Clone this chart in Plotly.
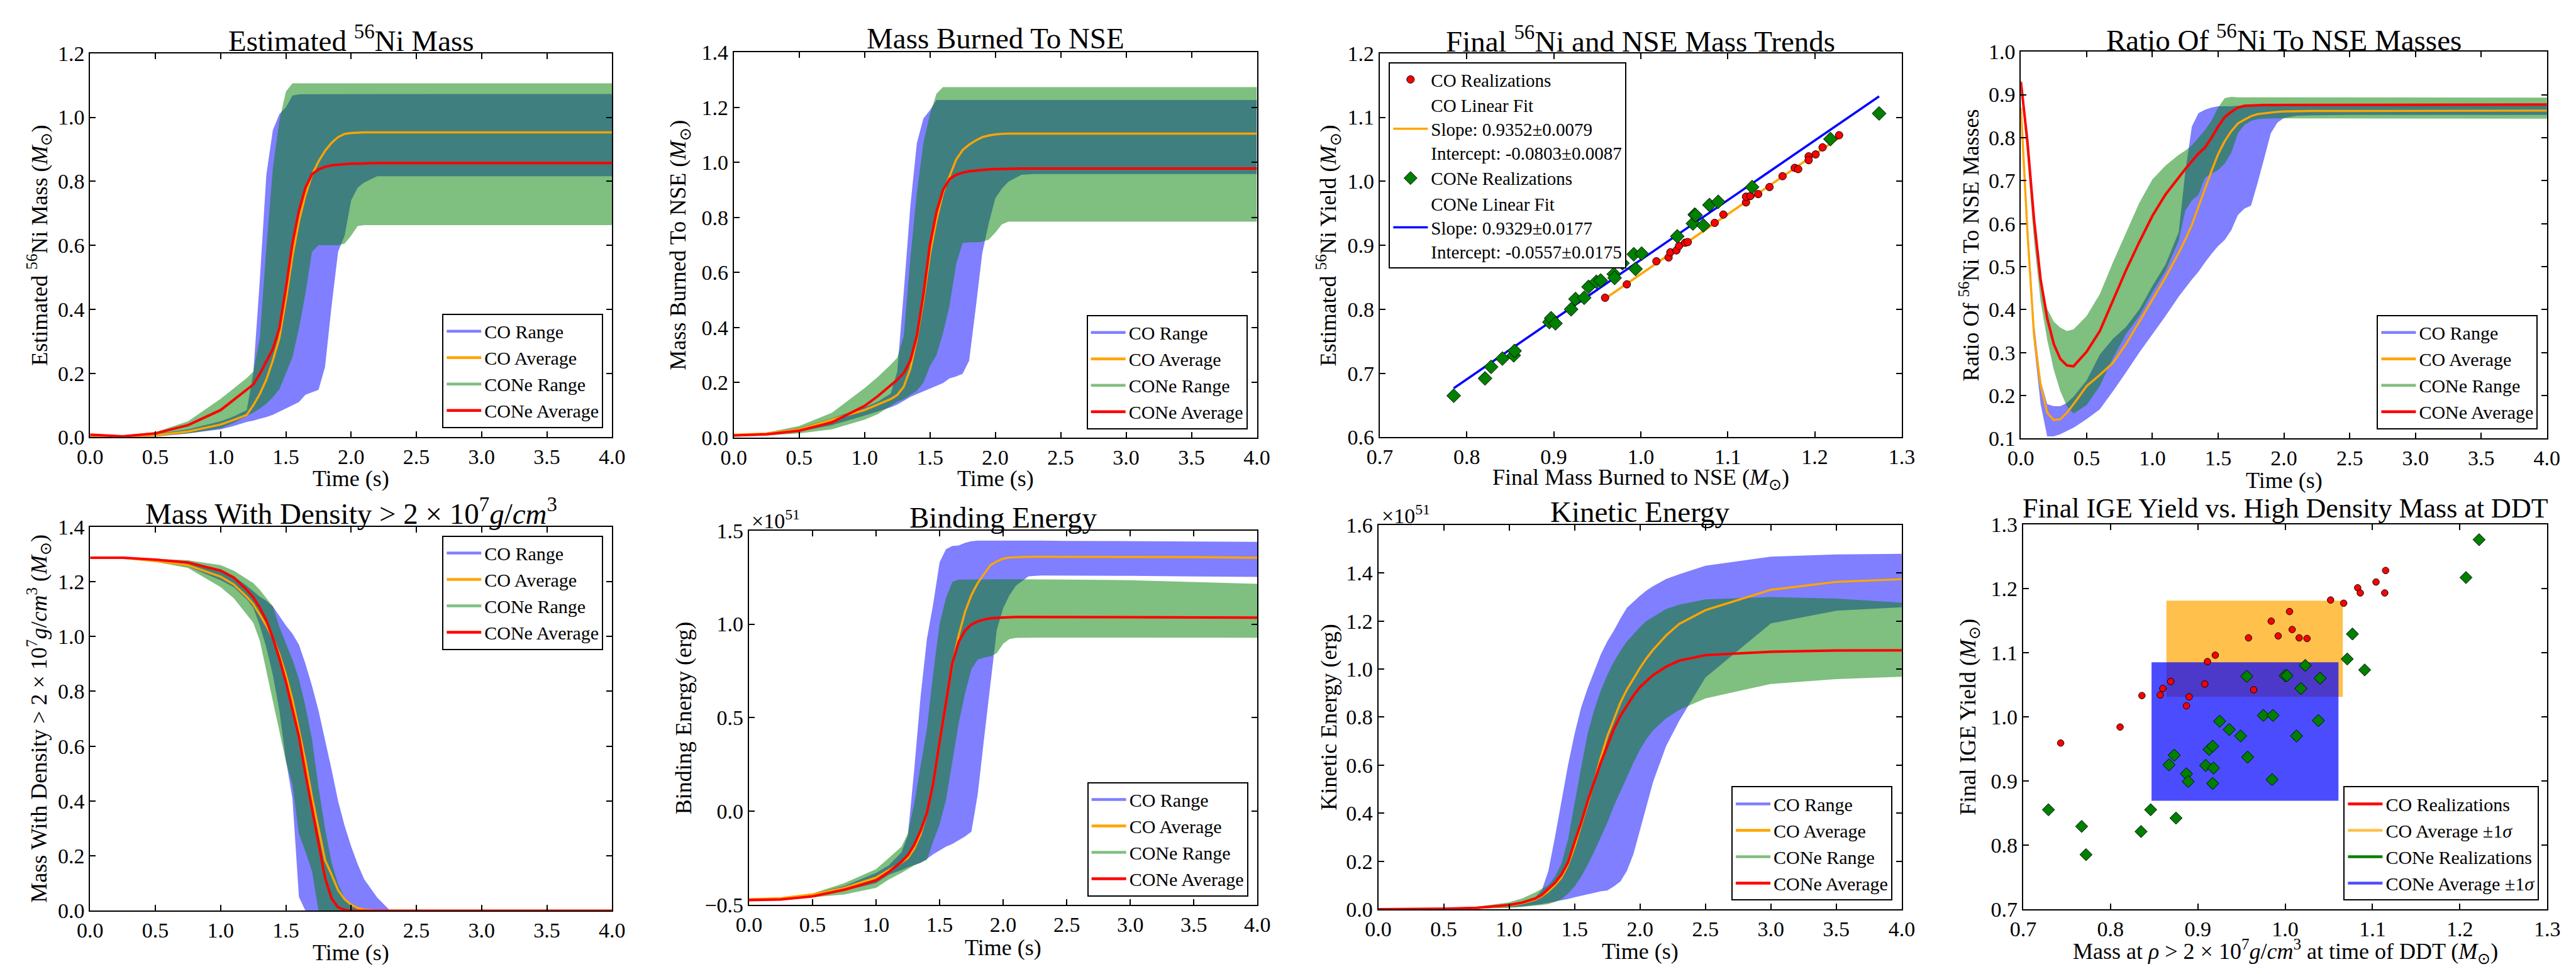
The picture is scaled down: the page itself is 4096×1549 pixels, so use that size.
import plotly.graph_objects as go

FONT = "Liberation Serif"
W, H = 4096, 1549

# ---------------- time grids ----------------
T = [0.0, 0.25, 0.5, 0.75, 1.0, 1.1, 1.2, 1.25, 1.3, 1.35, 1.4, 1.45, 1.5, 1.55, 1.6, 1.65,
     1.7, 1.75, 1.8, 1.85, 1.9, 1.95, 2.0, 2.05, 2.1, 2.2, 2.3, 2.5, 3.0, 3.5, 4.0]
T4 = [0.0, 0.05, 0.1, 0.15, 0.2, 0.25, 0.3, 0.35, 0.4, 0.5, 0.6, 0.7, 0.8, 0.9, 1.0, 1.1, 1.2,
      1.25, 1.3, 1.35, 1.4, 1.45, 1.5, 1.55, 1.6, 1.65, 1.7, 1.75, 1.8, 1.85, 1.9, 1.95, 2.0,
      2.1, 2.2, 2.5, 4.0]

# ---------------- panel 1: estimated 56Ni mass ----------------
ni_co_lo = [0.0, 0.0, 0.002, 0.012, 0.025, 0.035, 0.048, 0.052, 0.058, 0.063, 0.07, 0.08, 0.09, 0.10,
            0.11, 0.133, 0.14, 0.148, 0.22, 0.41, 0.58, 0.63, 0.74, 0.78, 0.796, 0.816, 0.816, 0.816,
            0.816, 0.816, 0.816]
ni_co_hi = [0.006, 0.004, 0.01, 0.025, 0.05, 0.065, 0.085, 0.2, 0.49, 0.82, 0.96, 1.01, 1.031, 1.068,
            1.072, 1.073, 1.073, 1.073, 1.073, 1.073, 1.073, 1.073, 1.073, 1.073, 1.073, 1.073, 1.073,
            1.073, 1.073, 1.073, 1.073]
ni_cone_lo = [0.0, 0.0, 0.003, 0.012, 0.028, 0.045, 0.066, 0.077, 0.09, 0.105, 0.125, 0.15, 0.2, 0.25,
              0.34, 0.45, 0.58, 0.60, 0.60, 0.60, 0.60, 0.605, 0.63, 0.66, 0.663, 0.663, 0.663, 0.663,
              0.663, 0.663, 0.663]
ni_cone_hi = [0.01, 0.006, 0.016, 0.05, 0.12, 0.152, 0.185, 0.205, 0.31, 0.59, 0.84, 0.99, 1.08, 1.106,
              1.106, 1.106, 1.106, 1.106, 1.106, 1.106, 1.106, 1.106, 1.106, 1.106, 1.106, 1.106, 1.106,
              1.106, 1.106, 1.106, 1.106]
ni_co_avg = [0.005, 0.002, 0.006, 0.018, 0.04, 0.054, 0.07, 0.10, 0.135, 0.18, 0.24, 0.31, 0.43, 0.565,
             0.675, 0.757, 0.82, 0.862, 0.895, 0.92, 0.938, 0.948, 0.951, 0.952, 0.953, 0.953, 0.953,
             0.953, 0.953, 0.953, 0.953]
ni_cone_avg = [0.008, 0.003, 0.012, 0.038, 0.085, 0.117, 0.147, 0.165, 0.198, 0.235, 0.276, 0.34, 0.465,
               0.605, 0.708, 0.78, 0.822, 0.837, 0.845, 0.85, 0.852, 0.854, 0.855, 0.855, 0.856, 0.857,
               0.857, 0.857, 0.857, 0.857, 0.857]

# ---------------- panel 2: mass burned to NSE ----------------
nse_co_lo = [0.005, 0.01, 0.022, 0.045, 0.08, 0.095, 0.11, 0.12, 0.135, 0.148, 0.158, 0.168, 0.178, 0.188,
             0.198, 0.215, 0.222, 0.232, 0.28, 0.47, 0.67, 0.78, 0.87, 0.905, 0.93, 0.955, 0.958, 0.958,
             0.958, 0.958, 0.958]
nse_co_hi = [0.008, 0.018, 0.035, 0.07, 0.11, 0.13, 0.16, 0.24, 0.53, 0.84, 1.07, 1.16, 1.19, 1.227,
             1.227, 1.227, 1.227, 1.227, 1.227, 1.227, 1.227, 1.227, 1.227, 1.227, 1.227, 1.227, 1.227,
             1.227, 1.227, 1.227, 1.227]
nse_cone_lo = [0.003, 0.008, 0.015, 0.03, 0.065, 0.085, 0.115, 0.13, 0.14, 0.155, 0.17, 0.2, 0.26, 0.30,
               0.38, 0.48, 0.63, 0.708, 0.71, 0.71, 0.712, 0.72, 0.745, 0.775, 0.785, 0.785, 0.785, 0.785,
               0.785, 0.785, 0.785]
nse_cone_hi = [0.01, 0.018, 0.042, 0.09, 0.18, 0.22, 0.265, 0.29, 0.37, 0.65, 0.89, 1.07, 1.175, 1.25,
               1.274, 1.274, 1.274, 1.274, 1.274, 1.274, 1.274, 1.274, 1.274, 1.274, 1.274, 1.274, 1.274,
               1.274, 1.274, 1.274, 1.274]
nse_co_avg = [0.01, 0.015, 0.03, 0.065, 0.10, 0.12, 0.14, 0.155, 0.185, 0.25, 0.36, 0.50, 0.666, 0.79,
              0.89, 0.95, 1.01, 1.045, 1.065, 1.08, 1.092, 1.098, 1.102, 1.104, 1.105, 1.105, 1.105,
              1.105, 1.105, 1.105, 1.105]
nse_cone_avg = [0.008, 0.012, 0.025, 0.055, 0.115, 0.15, 0.19, 0.21, 0.235, 0.28, 0.37, 0.52, 0.70, 0.82,
                0.90, 0.94, 0.955, 0.963, 0.968, 0.971, 0.973, 0.975, 0.976, 0.977, 0.978, 0.978, 0.978,
                0.978, 0.978, 0.978, 0.978]

# ---------------- panel 4: ratio of 56Ni to NSE masses ----------------
ratio_co_lo = [0.86, 0.55, 0.32, 0.18, 0.105, 0.105, 0.11, 0.117, 0.125, 0.145, 0.168, 0.21, 0.254, 0.3,
               0.342, 0.385, 0.43, 0.45, 0.47, 0.488, 0.51, 0.53, 0.548, 0.562, 0.585, 0.62, 0.635,
               0.642, 0.695, 0.752, 0.81, 0.835, 0.846, 0.851, 0.852, 0.853, 0.853]
ratio_co_hi = [0.88, 0.61, 0.37, 0.235, 0.18, 0.175, 0.175, 0.183, 0.197, 0.235, 0.295, 0.332, 0.36, 0.40,
               0.455, 0.505, 0.58, 0.72, 0.826, 0.857, 0.865, 0.87, 0.873, 0.873, 0.873, 0.874, 0.874,
               0.875, 0.875, 0.875, 0.875, 0.875, 0.875, 0.875, 0.875, 0.875, 0.875]
ratio_cone_lo = [0.925, 0.75, 0.56, 0.42, 0.33, 0.26, 0.21, 0.175, 0.158, 0.178, 0.222, 0.287, 0.343,
                 0.385, 0.44, 0.49, 0.56, 0.63, 0.654, 0.667, 0.707, 0.716, 0.725, 0.74, 0.765, 0.81,
                 0.83, 0.839, 0.843, 0.844, 0.845, 0.845, 0.845, 0.845, 0.845, 0.844, 0.844]
ratio_cone_hi = [0.935, 0.81, 0.63, 0.48, 0.402, 0.372, 0.358, 0.35, 0.354, 0.385, 0.436, 0.51, 0.58,
                 0.648, 0.703, 0.735, 0.76, 0.77, 0.782, 0.8, 0.818, 0.84, 0.87, 0.892, 0.895, 0.894,
                 0.893, 0.893, 0.893, 0.893, 0.893, 0.893, 0.893, 0.893, 0.893, 0.893, 0.893]
ratio_co_avg = [0.87, 0.58, 0.34, 0.225, 0.16, 0.143, 0.145, 0.16, 0.18, 0.222, 0.248, 0.276, 0.32, 0.372,
                0.423, 0.475, 0.532, 0.563, 0.597, 0.64, 0.683, 0.723, 0.762, 0.792, 0.815, 0.833, 0.842,
                0.85, 0.855, 0.857, 0.858, 0.86, 0.861, 0.862, 0.862, 0.862, 0.863]
ratio_cone_avg = [0.93, 0.79, 0.61, 0.47, 0.38, 0.32, 0.285, 0.27, 0.268, 0.302, 0.35, 0.42, 0.492, 0.557,
                  0.618, 0.668, 0.708, 0.727, 0.745, 0.763, 0.777, 0.8, 0.826, 0.848, 0.86, 0.87, 0.874,
                  0.875, 0.876, 0.876, 0.876, 0.876, 0.876, 0.876, 0.877, 0.877, 0.877]

# ---------------- panel 5: mass with density > 2e7 g/cm^3 ----------------
dens_co_lo = [1.287, 1.286, 1.272, 1.255, 1.205, 1.18, 1.135, 1.105, 1.04, 0.96, 0.86, 0.73, 0.55, 0.41,
              0.05, 0.0, 0.0, 0.0, 0.0, 0.0, 0.0, 0.0, 0.0, 0.0, 0.0, 0.0, 0.0, 0.0, 0.0, 0.0, 0.0]
dens_co_hi = [1.287, 1.287, 1.28, 1.272, 1.245, 1.22, 1.185, 1.165, 1.145, 1.13, 1.11, 1.075, 1.04, 1.01,
              0.97, 0.9, 0.82, 0.73, 0.62, 0.515, 0.40, 0.31, 0.235, 0.17, 0.115, 0.048, 0.0, 0.0, 0.0,
              0.0, 0.0]
dens_cone_lo = [1.287, 1.285, 1.272, 1.25, 1.18, 1.14, 1.08, 1.05, 0.985, 0.875, 0.77, 0.66, 0.545, 0.46,
                0.28, 0.215, 0.145, 0.0, 0.0, 0.0, 0.0, 0.0, 0.0, 0.0, 0.0, 0.0, 0.0, 0.0, 0.0, 0.0, 0.0]
dens_cone_hi = [1.287, 1.287, 1.283, 1.278, 1.26, 1.24, 1.21, 1.195, 1.17, 1.14, 1.11, 1.035, 0.975,
                0.915, 0.845, 0.745, 0.625, 0.45, 0.30, 0.175, 0.098, 0.048, 0.022, 0.008, 0.002, 0.0,
                0.0, 0.0, 0.0, 0.0, 0.0]
dens_co_avg = [1.287, 1.287, 1.275, 1.26, 1.218, 1.19, 1.145, 1.118, 1.08, 1.04, 0.995, 0.935, 0.86, 0.77,
               0.66, 0.545, 0.415, 0.295, 0.185, 0.132, 0.075, 0.042, 0.022, 0.01, 0.004, 0.0, 0.0, 0.0,
               0.0, 0.0, 0.0]
dens_cone_avg = [1.287, 1.287, 1.28, 1.27, 1.24, 1.215, 1.17, 1.143, 1.105, 1.058, 0.995, 0.92, 0.835,
                 0.73, 0.635, 0.50, 0.37, 0.24, 0.12, 0.045, 0.012, 0.003, 0.0, 0.0, 0.0, 0.0, 0.0, 0.0,
                 0.0, 0.0, 0.0]

# ---------------- panel 6: binding energy (1e51 erg) ----------------
bind_co_lo = [-0.475, -0.472, -0.455, -0.425, -0.385, -0.34, -0.315, -0.30, -0.288, -0.276, -0.255,
              -0.23, -0.21, -0.19, -0.175, -0.155, -0.135, -0.11, 0.09, 0.39, 0.69, 0.97, 1.085, 1.155,
              1.205, 1.256, 1.26, 1.26, 1.258, 1.255, 1.252]
bind_co_hi = [-0.468, -0.462, -0.44, -0.40, -0.33, -0.29, -0.22, -0.13, 0.22, 0.61, 0.92, 1.11, 1.33,
              1.40, 1.418, 1.42, 1.435, 1.443, 1.446, 1.446, 1.446, 1.446, 1.446, 1.446, 1.446, 1.446,
              1.446, 1.445, 1.443, 1.441, 1.44]
bind_cone_lo = [-0.478, -0.475, -0.46, -0.445, -0.41, -0.365, -0.33, -0.31, -0.29, -0.275, -0.26, -0.16,
                -0.07, 0.06, 0.27, 0.47, 0.63, 0.76, 0.81, 0.821, 0.828, 0.845, 0.895, 0.92, 0.926, 0.928,
                0.928, 0.928, 0.928, 0.928, 0.927]
bind_cone_hi = [-0.468, -0.464, -0.44, -0.385, -0.31, -0.25, -0.19, -0.12, 0.04, 0.24, 0.44, 0.74, 1.0,
                1.14, 1.225, 1.238, 1.24, 1.24, 1.24, 1.24, 1.24, 1.24, 1.24, 1.24, 1.24, 1.24, 1.24,
                1.238, 1.235, 1.225, 1.215]
bind_co_avg = [-0.47, -0.465, -0.445, -0.41, -0.355, -0.315, -0.275, -0.25, -0.2, -0.125, -0.01, 0.15,
               0.37, 0.58, 0.78, 0.94, 1.065, 1.155, 1.22, 1.27, 1.315, 1.335, 1.35, 1.356, 1.358, 1.36,
               1.36, 1.36, 1.36, 1.358, 1.355]
bind_cone_avg = [-0.475, -0.472, -0.455, -0.42, -0.37, -0.325, -0.27, -0.235, -0.18, -0.105, -0.01, 0.15,
                 0.37, 0.59, 0.79, 0.905, 0.965, 0.998, 1.015, 1.024, 1.031, 1.034, 1.036, 1.037, 1.038,
                 1.038, 1.038, 1.038, 1.038, 1.037, 1.035]

# ---------------- panel 7: kinetic energy (1e51 erg) ----------------
kin_co_lo = [0.0, 0.0, 0.001, 0.003, 0.008, 0.012, 0.018, 0.022, 0.027, 0.032, 0.037, 0.043, 0.05, 0.055,
             0.062, 0.068, 0.075, 0.078, 0.095, 0.115, 0.16, 0.23, 0.33, 0.43, 0.53, 0.68, 0.785, 0.965,
             1.19, 1.243, 1.257]
kin_co_hi = [0.0005, 0.001, 0.003, 0.008, 0.02, 0.03, 0.05, 0.08, 0.16, 0.3, 0.445, 0.6, 0.73, 0.84, 0.92,
             0.99, 1.06, 1.115, 1.16, 1.21, 1.255, 1.28, 1.305, 1.327, 1.345, 1.375, 1.395, 1.43, 1.468,
             1.477, 1.48]
kin_cone_lo = [0.0, 0.0, 0.0, 0.002, 0.006, 0.01, 0.015, 0.018, 0.022, 0.03, 0.043, 0.065, 0.095, 0.135,
               0.185, 0.24, 0.3, 0.36, 0.43, 0.49, 0.55, 0.61, 0.665, 0.709, 0.745, 0.795, 0.83, 0.878,
               0.938, 0.958, 0.968]
kin_cone_hi = [0.001, 0.002, 0.004, 0.01, 0.029, 0.045, 0.07, 0.085, 0.1, 0.135, 0.19, 0.29, 0.44, 0.59,
               0.73, 0.83, 0.91, 0.975, 1.03, 1.075, 1.115, 1.145, 1.175, 1.2, 1.218, 1.25, 1.268, 1.29,
               1.3, 1.293, 1.276]
kin_co_avg = [0.0, 0.0, 0.002, 0.005, 0.015, 0.025, 0.04, 0.055, 0.075, 0.1, 0.132, 0.185, 0.26, 0.35,
              0.44, 0.53, 0.63, 0.72, 0.79, 0.86, 0.915, 0.96, 1.005, 1.045, 1.08, 1.14, 1.188, 1.245,
              1.33, 1.363, 1.374]
kin_cone_avg = [0.0, 0.0, 0.002, 0.006, 0.018, 0.028, 0.045, 0.06, 0.085, 0.11, 0.145, 0.195, 0.28, 0.36,
                0.45, 0.53, 0.61, 0.68, 0.75, 0.805, 0.85, 0.89, 0.925, 0.95, 0.975, 1.01, 1.035, 1.058,
                1.072, 1.077, 1.078]

# ---------------- panel 3: final 56Ni vs NSE mass ----------------
co_nse = [0.959, 0.984, 1.018, 1.032, 1.034, 1.041, 1.044, 1.051, 1.054, 1.085, 1.095, 1.121, 1.121,
          1.126, 1.135, 1.148, 1.163, 1.177, 1.181, 1.193, 1.193, 1.201, 1.209, 1.228]
co_ni = [0.818, 0.839, 0.875, 0.881, 0.889, 0.892, 0.899, 0.904, 0.905, 0.935, 0.948, 0.967, 0.976,
         0.977, 0.980, 0.991, 1.008, 1.021, 1.019, 1.039, 1.033, 1.042, 1.053, 1.072]
cone_nse = [0.785, 0.821, 0.828, 0.841, 0.854, 0.855, 0.895, 0.897, 0.902, 0.920, 0.925, 0.935, 0.940,
            0.949, 0.954, 0.969, 0.970, 0.979, 0.992, 0.994, 1.001, 1.042, 1.060, 1.062, 1.063, 1.072,
            1.079, 1.089, 1.128, 1.218, 1.274]
cone_ni = [0.665, 0.692, 0.710, 0.723, 0.728, 0.735, 0.780, 0.786, 0.778, 0.800, 0.816, 0.818, 0.835,
           0.843, 0.845, 0.855, 0.849, 0.872, 0.886, 0.863, 0.887, 0.914, 0.934, 0.948, 0.947, 0.931,
           0.963, 0.968, 0.991, 1.066, 1.106]
co_fit = {"slope": 0.9352, "slope_err": 0.0079, "intercept": -0.0803, "intercept_err": 0.0087}
cone_fit = {"slope": 0.9329, "slope_err": 0.0177, "intercept": -0.0557, "intercept_err": 0.0175}

# ---------------- panel 8: final IGE yield vs high density mass at DDT ----------------
co_ddt = [0.743, 0.811, 0.836, 0.857, 0.860, 0.869, 0.887, 0.890, 0.908, 0.911, 0.920, 0.958, 0.964,
          0.984, 0.992, 1.005, 1.008, 1.016, 1.025, 1.052, 1.067, 1.083, 1.086, 1.104, 1.114, 1.115]
co_ige = [0.959, 0.984, 1.033, 1.034, 1.044, 1.055, 1.017, 1.031, 1.051, 1.086, 1.096, 1.123, 1.042,
          1.149, 1.126, 1.164, 1.136, 1.123, 1.122, 1.182, 1.177, 1.201, 1.193, 1.210, 1.193, 1.228]
cone_ddt = [0.729, 0.767, 0.772, 0.835, 0.846, 0.867, 0.873, 0.875, 0.887, 0.889, 0.909, 0.913, 0.917,
            0.917, 0.918, 0.925, 0.936, 0.949, 0.957, 0.956, 0.975, 0.985, 0.986, 1.000, 1.002, 1.013,
            1.018, 1.023, 1.038, 1.040, 1.071, 1.077, 1.091, 1.207, 1.222]
cone_ige = [0.855, 0.829, 0.785, 0.821, 0.855, 0.925, 0.940, 0.842, 0.911, 0.899, 0.924, 0.949, 0.954,
            0.896, 0.920, 0.993, 0.980, 0.970, 0.937, 1.063, 1.002, 0.902, 1.002, 1.064, 1.064, 0.970,
            1.044, 1.080, 0.994, 1.060, 1.090, 1.129, 1.073, 1.217, 1.276]
co_box_x = [0.864, 1.066]     # CO average +/- 1 sigma (DDT mass)
co_box_y = [1.031, 1.181]     # CO average +/- 1 sigma (IGE yield)
cone_box_x = [0.847, 1.061]
cone_box_y = [0.869, 1.085]

# ---------------- tick values ----------------
TIME_TICKS = [0.0, 0.5, 1.0, 1.5, 2.0, 2.5, 3.0, 3.5, 4.0]
NI_TICKS = [0.0, 0.2, 0.4, 0.6, 0.8, 1.0, 1.2]
NSE_TICKS = [0.0, 0.2, 0.4, 0.6, 0.8, 1.0, 1.2, 1.4]
P3_X_TICKS = [0.7, 0.8, 0.9, 1.0, 1.1, 1.2, 1.3]
P3_Y_TICKS = [0.6, 0.7, 0.8, 0.9, 1.0, 1.1, 1.2]
RATIO_TICKS = [0.1, 0.2, 0.3, 0.4, 0.5, 0.6, 0.7, 0.8, 0.9, 1.0]
BIND_TICKS = [-0.5, 0.0, 0.5, 1.0, 1.5]
KIN_TICKS = [0.0, 0.2, 0.4, 0.6, 0.8, 1.0, 1.2, 1.4, 1.6]
P8_X_TICKS = [0.7, 0.8, 0.9, 1.0, 1.1, 1.2, 1.3]
P8_Y_TICKS = [0.7, 0.8, 0.9, 1.0, 1.1, 1.2, 1.3]

# ---------------- styling ----------------
BLUE_FILL = "rgba(0,0,255,0.5)"
GREEN_FILL = "rgba(0,128,0,0.5)"
ORANGE = "#FFA500"
RED = "#FF0000"
GREEN = "#008000"
BLUE = "#0000FF"
ORANGE_BOX = "rgba(255,165,0,0.7)"
BLUE_BOX = "rgba(0,0,255,0.7)"

TICK_SIZE = 34
TITLE_SIZE = 47
LABEL_SIZE = 36
LEGEND_SIZE = 30

# panel boxes in window pixels: left, right, top, bottom
BOX = {
    1: (123.6, 962.2, 68.4, 694.0),
    2: (1157.6, 1998.0, 67.0, 694.5),
    3: (2195.4, 3034.0, 68.4, 694.0),
    4: (3225.4, 4070.6, 65.8, 696.0),
    5: (123.6, 962.2, 839.8, 1465.4),
    6: (1182.0, 1998.8, 846.0, 1455.6),
    7: (2193.0, 3034.0, 836.8, 1463.0),
    8: (3229.0, 4071.0, 835.8, 1462.8),
}

fig = go.Figure()


def axn(i):
    return ("x" if i == 1 else f"x{i}", "y" if i == 1 else f"y{i}")


def lgn(i):
    return "legend" if i == 1 else f"legend{i}"


def band(i, t, lo, hi, color):
    xa, ya = axn(i)
    fig.add_trace(go.Scatter(x=list(t) + list(t)[::-1], y=list(lo) + list(hi)[::-1],
                             fill="toself", fillcolor=color, line=dict(width=0), mode="lines",
                             showlegend=False, hoverinfo="skip", xaxis=xa, yaxis=ya))


def curve(i, t, y, color, width):
    xa, ya = axn(i)
    fig.add_trace(go.Scatter(x=t, y=y, mode="lines", line=dict(color=color, width=width),
                             showlegend=False, hoverinfo="skip", xaxis=xa, yaxis=ya))


def legend_line(i, name, color, width=4.5):
    xa, ya = axn(i)
    fig.add_trace(go.Scatter(x=[None], y=[None], mode="lines", line=dict(color=color, width=width),
                             name=name, legend=lgn(i), showlegend=True, xaxis=xa, yaxis=ya))


# ---------------- time-series panels ----------------
time_panels = [
    (1, T, ni_co_lo, ni_co_hi, ni_co_avg, ni_cone_lo, ni_cone_hi, ni_cone_avg),
    (2, T, nse_co_lo, nse_co_hi, nse_co_avg, nse_cone_lo, nse_cone_hi, nse_cone_avg),
    (4, T4, ratio_co_lo, ratio_co_hi, ratio_co_avg, ratio_cone_lo, ratio_cone_hi, ratio_cone_avg),
    (5, T, dens_co_lo, dens_co_hi, dens_co_avg, dens_cone_lo, dens_cone_hi, dens_cone_avg),
    (6, T, bind_co_lo, bind_co_hi, bind_co_avg, bind_cone_lo, bind_cone_hi, bind_cone_avg),
    (7, T, kin_co_lo, kin_co_hi, kin_co_avg, kin_cone_lo, kin_cone_hi, kin_cone_avg),
]
for (i, t, clo, chi, cav, nlo, nhi, nav) in time_panels:
    band(i, t, clo, chi, BLUE_FILL)
    band(i, t, nlo, nhi, GREEN_FILL)
    curve(i, t, cav, ORANGE, 3.4)
    curve(i, t, nav, RED, 4.0)
    legend_line(i, "CO Range", BLUE_FILL)
    legend_line(i, "CO Average", ORANGE)
    legend_line(i, "CONe Range", GREEN_FILL)
    legend_line(i, "CONe Average", RED)

# ---------------- panel 3 ----------------
co_fx = [min(co_nse), max(co_nse)]
cone_fx = [min(cone_nse), max(cone_nse)]
co_fy = [co_fit["slope"] * v + co_fit["intercept"] for v in co_fx]
cone_fy = [cone_fit["slope"] * v + cone_fit["intercept"] for v in cone_fx]
xa3, ya3 = axn(3)
fig.add_trace(go.Scatter(x=co_fx, y=co_fy, mode="lines", line=dict(color=ORANGE, width=3.6),
                         name=(f"CO Linear Fit<br>Slope: {co_fit['slope']:.4f}±{co_fit['slope_err']:.4f}"
                               f"<br>Intercept: {co_fit['intercept']:.4f}±{co_fit['intercept_err']:.4f}"),
                         legend=lgn(3), legendrank=2, xaxis=xa3, yaxis=ya3))
fig.add_trace(go.Scatter(x=cone_fx, y=cone_fy, mode="lines", line=dict(color=BLUE, width=3.6),
                         name=(f"CONe Linear Fit<br>Slope: {cone_fit['slope']:.4f}±{cone_fit['slope_err']:.4f}"
                               f"<br>Intercept: {cone_fit['intercept']:.4f}±{cone_fit['intercept_err']:.4f}"),
                         legend=lgn(3), legendrank=4, xaxis=xa3, yaxis=ya3))
fig.add_trace(go.Scatter(x=co_nse, y=co_ni, mode="markers", name="CO Realizations",
                         marker=dict(symbol="circle", size=12, color=RED, line=dict(color="black", width=1)),
                         legend=lgn(3), legendrank=1, xaxis=xa3, yaxis=ya3))
fig.add_trace(go.Scatter(x=cone_nse, y=cone_ni, mode="markers", name="CONe Realizations",
                         marker=dict(symbol="diamond", size=17, color=GREEN, line=dict(color="black", width=1)),
                         legend=lgn(3), legendrank=3, xaxis=xa3, yaxis=ya3))

# ---------------- panel 8 ----------------
xa8, ya8 = axn(8)
for bx, by, col in ((co_box_x, co_box_y, ORANGE_BOX), (cone_box_x, cone_box_y, BLUE_BOX)):
    fig.add_trace(go.Scatter(x=[bx[0], bx[1], bx[1], bx[0], bx[0]], y=[by[0], by[0], by[1], by[1], by[0]],
                             fill="toself", fillcolor=col, line=dict(width=0), mode="lines",
                             showlegend=False, hoverinfo="skip", xaxis=xa8, yaxis=ya8))
fig.add_trace(go.Scatter(x=co_ddt, y=co_ige, mode="markers", showlegend=False,
                         marker=dict(symbol="circle", size=10.5, color=RED, line=dict(color="black", width=1)),
                         xaxis=xa8, yaxis=ya8))
fig.add_trace(go.Scatter(x=cone_ddt, y=cone_ige, mode="markers", showlegend=False,
                         marker=dict(symbol="diamond", size=15, color=GREEN, line=dict(color="black", width=1)),
                         xaxis=xa8, yaxis=ya8))
legend_line(8, "CO Realizations", RED)
legend_line(8, "CO Average ±1<i>σ</i>", ORANGE_BOX)
legend_line(8, "CONe Realizations", GREEN)
legend_line(8, "CONe Average ±1<i>σ</i>", BLUE_BOX)

# ---------------- axes ----------------
def fmt(v):
    s = f"{v:.1f}"
    return s.replace("-", "\u2212")


axis_common = dict(showline=True, linecolor="black", linewidth=2, mirror="ticks", ticks="inside",
                   ticklen=9, tickwidth=1.5, tickcolor="black", showgrid=False, zeroline=False,
                   tickfont=dict(family=FONT, size=TICK_SIZE, color="black"), tickmode="array",
                   fixedrange=True)

axis_spec = {
    1: (TIME_TICKS, NI_TICKS),
    2: (TIME_TICKS, NSE_TICKS),
    3: (P3_X_TICKS, P3_Y_TICKS),
    4: (TIME_TICKS, RATIO_TICKS),
    5: (TIME_TICKS, NSE_TICKS),
    6: (TIME_TICKS, BIND_TICKS),
    7: (TIME_TICKS, KIN_TICKS),
    8: (P8_X_TICKS, P8_Y_TICKS),
}

layout = dict(width=W, height=H, margin=dict(l=0, r=0, t=0, b=0), paper_bgcolor="white",
              plot_bgcolor="white", font=dict(family=FONT, color="black"), showlegend=True)

for i, (xt, yt) in axis_spec.items():
    l, r, tp, bt = BOX[i]
    xk = "xaxis" if i == 1 else f"xaxis{i}"
    yk = "yaxis" if i == 1 else f"yaxis{i}"
    xa, ya = axn(i)
    layout[xk] = dict(domain=[l / W, r / W], anchor=ya, range=[xt[0], xt[-1]],
                      tickvals=xt, ticktext=[fmt(v) for v in xt], **axis_common)
    layout[yk] = dict(domain=[1 - bt / H, 1 - tp / H], anchor=xa, range=[yt[0], yt[-1]],
                      tickvals=yt, ticktext=[fmt(v) for v in yt], **axis_common)

# ---------------- legends ----------------
def legend_box(x, y, xanchor, yanchor, size=LEGEND_SIZE):
    return dict(x=x / W, y=1 - y / H, xanchor=xanchor, yanchor=yanchor, xref="paper", yref="paper",
                bgcolor="white", bordercolor="black", borderwidth=2, itemwidth=55,
                font=dict(family=FONT, size=size, color="black"), tracegroupgap=0,
                traceorder="normal", itemclick=False, itemdoubleclick=False)


layout["legend"] = legend_box(948, 679, "right", "bottom")
layout["legend2"] = legend_box(1983, 681, "right", "bottom")
layout["legend3"] = legend_box(2210, 83, "left", "top", size=29)
layout["legend4"] = legend_box(4056, 681, "right", "bottom")
layout["legend5"] = legend_box(948, 854, "right", "top")
layout["legend6"] = legend_box(1984, 1442, "right", "bottom")
layout["legend7"] = legend_box(3019, 1449, "right", "bottom")
layout["legend8"] = legend_box(4058, 1449, "right", "bottom")

fig.update_layout(**layout)

# ---------------- text: titles, axis labels ----------------
MSUN = "(<i>M</i><sub>⊙</sub>)"
titles = {
    1: ("Estimated <sup>56</sup>Ni Mass", 44.5, TITLE_SIZE),
    2: ("Mass Burned To NSE", 44.5, TITLE_SIZE),
    3: ("Final <sup>56</sup>Ni and NSE Mass Trends", 46, TITLE_SIZE),
    4: ("Ratio Of <sup>56</sup>Ni To NSE Masses", 43.5, TITLE_SIZE),
    5: ("Mass With Density > 2 × 10<sup>7</sup><i>g</i>/<i>cm</i><sup>3</sup>", 815, TITLE_SIZE),
    6: ("Binding Energy", 825, TITLE_SIZE),
    7: ("Kinetic Energy", 815, TITLE_SIZE),
    8: ("Final IGE Yield vs. High Density Mass at DDT", 810, 44),
}
ylabels = {
    1: ("Estimated <sup>56</sup>Ni Mass " + MSUN, 42),
    2: ("Mass Burned To NSE " + MSUN, 1071),
    3: ("Estimated <sup>56</sup>Ni Yield " + MSUN, 2113),
    4: ("Ratio Of <sup>56</sup>Ni To NSE Masses", 3143),
    5: ("Mass With Density > 2 × 10<sup>7</sup><i>g</i>/<i>cm</i><sup>3</sup> " + MSUN, 41),
    6: ("Binding Energy (erg)", 1077),
    7: ("Kinetic Energy (erg)", 2114),
    8: ("Final IGE Yield " + MSUN, 3143),
}
xlabels = {
    1: ("Time (s)", 761),
    2: ("Time (s)", 761),
    3: ("Final Mass Burned to NSE " + MSUN, 762),
    4: ("Time (s)", 764),
    5: ("Time (s)", 1534),
    6: ("Time (s)", 1525),
    7: ("Time (s)", 1532),
    8: ("Mass at <i>ρ</i> > 2 × 10<sup>7</sup><i>g</i>/<i>cm</i><sup>3</sup> at time of DDT " + MSUN, 1532),
}

annotations = []
for i in range(1, 9):
    l, r, tp, bt = BOX[i]
    cx = (l + r) / 2
    cy = (tp + bt) / 2
    txt, ty, tsize = titles[i]
    annotations.append(dict(text=txt, x=cx / W, y=1 - ty / H, xref="paper", yref="paper",
                            xanchor="center", yanchor="middle", showarrow=False,
                            font=dict(family=FONT, size=tsize, color="black")))
    txt, lx = ylabels[i]
    annotations.append(dict(text=txt, x=lx / W, y=1 - cy / H, xref="paper", yref="paper",
                            xanchor="center", yanchor="middle", showarrow=False, textangle=-90,
                            font=dict(family=FONT, size=LABEL_SIZE, color="black")))
    txt, ly = xlabels[i]
    annotations.append(dict(text=txt, x=cx / W, y=1 - ly / H, xref="paper", yref="paper",
                            xanchor="center", yanchor="middle", showarrow=False,
                            font=dict(family=FONT, size=LABEL_SIZE, color="black")))

# offset (scale) text for the energy panels
for (px, py) in ((1184, 828), (2197, 820)):
    annotations.append(dict(text="×10<sup>51</sup>", x=px / W, y=1 - py / H, xref="paper", yref="paper",
                            xanchor="left", yanchor="middle", showarrow=False,
                            font=dict(family=FONT, size=TICK_SIZE, color="black")))

fig.update_layout(annotations=annotations)
fig.write_html("out.html")
